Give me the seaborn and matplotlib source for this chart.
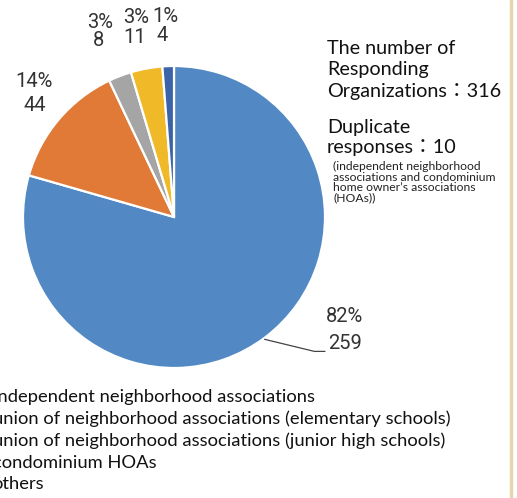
import matplotlib
matplotlib.use("Agg")
import matplotlib.pyplot as plt
from matplotlib import font_manager
from matplotlib.lines import Line2D
from matplotlib.patches import Patch
import seaborn as sns

# Survey responses by organization type
categories = [
    "independent neighborhood associations",
    "union of neighborhood associations (elementary schools)",
    "union of neighborhood associations (junior high schools)",
    "condominium HOAs",
    "others",
]
counts = [259, 44, 8, 11, 4]
respondents = 316
duplicates = 10

colors = ["#5289C4", "#E07A36", "#A5A5A5", "#F0B928", "#3B63A8"]

sns.set_theme(style="white")
plt.rcParams["font.family"] = ["Lato", "Noto Sans CJK JP", "DejaVu Sans"]

installed = {f.name for f in font_manager.fontManager.ttflist}
narrow = "Liberation Sans Narrow" if "Liberation Sans Narrow" in installed else "Roboto"

W, H = 517, 498
fig = plt.figure(figsize=(W / 100, H / 100), dpi=100)
fig.patch.set_facecolor("white")

# pie centred at (174, 217) px with a radius of 151 px
cx, cy, r = 174, 217, 151
ax = fig.add_axes([(cx - r) / W, (H - cy - r) / H, 2 * r / W, 2 * r / H])
wedges, _ = ax.pie(
    counts,
    colors=colors,
    startangle=90,
    counterclock=False,
    radius=1.0,
    wedgeprops=dict(edgecolor="white", linewidth=1.6),
)
ax.set_xlim(-1, 1)
ax.set_ylim(-1, 1)
ax.set_aspect("equal")
ax.axis("off")

label_font = dict(family=[narrow, "DejaVu Sans"],
                  fontsize=14.5 if narrow == "Roboto" else 15.5,
                  color="#333333", ha="center", va="center")

# (percent label, count label) positions in pie units
label_pos = [
    ((1.13, -0.66), (1.13, -0.84)),
    ((-0.93, 0.90), (-0.92, 0.74)),
    ((-0.49, 1.29), (-0.50, 1.17)),
    ((-0.25, 1.32), (-0.26, 1.19)),
    ((-0.06, 1.33), (-0.08, 1.20)),
]
for n, (p_pct, p_cnt) in zip(counts, label_pos):
    ax.text(*p_pct, f"{round(100 * n / respondents)}%", clip_on=False, **label_font)
    ax.text(*p_cnt, f"{n}", clip_on=False, **label_font)

# leader line for the largest slice
ax.plot([0.60, 0.93, 1.00], [-0.81, -0.89, -0.89], color="#444444", lw=0.9,
        clip_on=False)

# summary text at the right
tx = 327 / W
big = 14.2
fig.text(tx, 1 - 48 / H, "The number of", fontsize=big, va="center", color="#111111")
fig.text(tx, 1 - 70 / H, "Responding", fontsize=big, va="center", color="#111111")
fig.text(tx, 1 - 92 / H, f"Organizations：{respondents}", fontsize=big, va="center",
         color="#111111")
fig.text(tx, 1 - 127 / H, "Duplicate", fontsize=big, va="center", color="#111111")
fig.text(tx, 1 - 148 / H, f"responses：{duplicates}", fontsize=big, va="center",
         color="#111111")
note = ("(independent neighborhood\nassociations and condominium\n"
        "home owner’s associations\n(HOAs))")
fig.text(333 / W, 1 - 161 / H, note, fontsize=8.7, va="top", color="#222222",
         linespacing=0.95)

# legend
handles = [Patch(facecolor=c, edgecolor="none") for c in colors]
fs = 13.2
fig.legend(
    handles, categories,
    loc="upper left",
    bbox_to_anchor=(-33 / W, 1 - 388 / H),
    frameon=False,
    fontsize=fs,
    handlelength=0.9,
    handleheight=0.9,
    handletextpad=0.5,
    borderpad=0,
    borderaxespad=0,
    labelspacing=0.27,
    labelcolor="#111111",
)

# right-hand page border
fig.add_artist(Line2D([511 / W, 511 / W], [0, 1], color="#E6D6AE", lw=2.5,
                      transform=fig.transFigure))

fig.savefig("out.png", dpi=100)
